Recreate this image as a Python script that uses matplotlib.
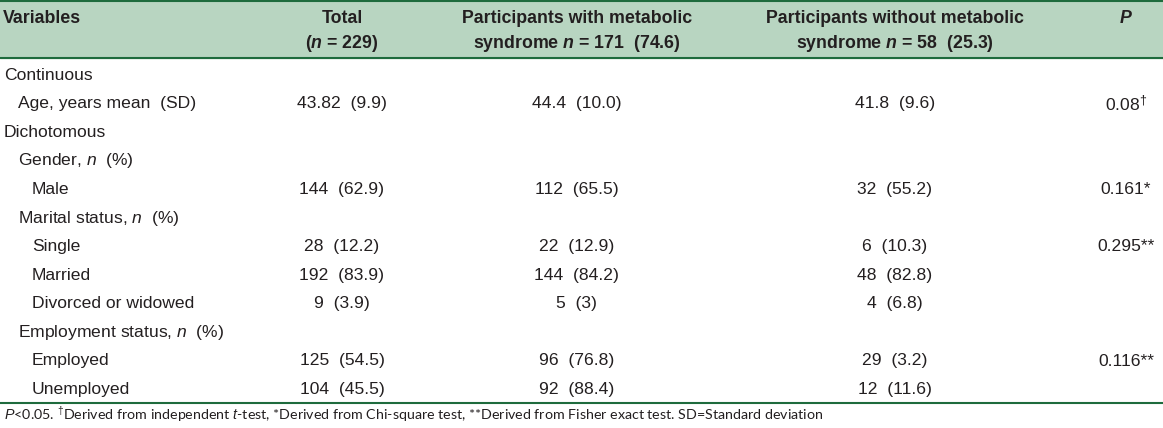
import matplotlib
matplotlib.use("Agg")
import matplotlib.pyplot as plt
from matplotlib import font_manager

# font setup: condensed sans for the table body
narrow = "Liberation Sans Narrow"
try:
    font_manager.findfont(narrow, fallback_to_default=False)
except Exception:
    narrow = "Liberation Sans"
plt.rcParams["font.family"] = [narrow, "DejaVu Sans"]
plt.rcParams["mathtext.fontset"] = "custom"
plt.rcParams["mathtext.rm"] = narrow
plt.rcParams["mathtext.it"] = narrow + ":italic"
plt.rcParams["mathtext.bf"] = narrow + ":bold"
plt.rcParams["mathtext.bfit"] = narrow + ":bold:italic"

# table data
head_line1 = ["Variables", "Total", "Participants with metabolic", "Participants without metabolic", "P"]
head_line2 = ["", "($\\mathbfit{n}$ = 229)", "syndrome $\\mathbfit{n}$ = 171  (74.6)",
              "syndrome $\\mathbfit{n}$ = 58  (25.3)", ""]
row_labels = ["Continuous", "Age, years mean  (SD)", "Dichotomous", "Gender, $n$  (%)", "Male",
              "Marital status, $n$  (%)", "Single", "Married", "Divorced or widowed",
              "Employment status, $n$  (%)", "Employed", "Unemployed"]
row_levels = [0, 1, 0, 1, 2, 1, 2, 2, 2, 1, 2, 2]
total = ["", "43.82  (9.9)", "", "", "144  (62.9)", "", "28  (12.2)", "192  (83.9)", "9  (3.9)",
         "", "125  (54.5)", "104  (45.5)"]
with_ms = ["", "44.4  (10.0)", "", "", "112  (65.5)", "", "22  (12.9)", "144  (84.2)", "5  (3)",
           "", "96  (76.8)", "92  (88.4)"]
without_ms = ["", "41.8  (9.6)", "", "", "32  (55.2)", "", "6  (10.3)", "48  (82.8)", "4  (6.8)",
              "", "29  (3.2)", "12  (11.6)"]
p_values = ["", "0.08$^{\\dagger}$", "", "", "0.161*", "", "0.295**", "", "", "", "0.116**", ""]
footnote = ("$P$<0.05. $^{\\dagger}$Derived from independent $t$-test, *Derived from Chi-square test, "
            "**Derived from Fisher exact test. SD=Standard deviation")

txt = "#231f20"
green_bg = "#b8d5c1"
green_line = "#1e6b3d"

fig = plt.figure(figsize=(11.63, 4.28), dpi=100)
ax = fig.add_axes([0, 0, 1, 1])
ax.set_xlim(0, 1163)
ax.set_ylim(428, 0)
ax.axis("off")

col_x = [3, 342, 577, 895, 1126]
indent = [4, 18, 32]
row_top, row_step = 75, 28.6

# header band
ax.axhspan(0, 58, color=green_bg, zorder=0)
ax.axhline(1, color=green_line, lw=1.5)
ax.axhline(58, color=green_line, lw=1.5)

hdr = dict(fontsize=12.8, fontweight="bold", color=txt, va="center")
ax.text(col_x[0], 18, head_line1[0], ha="left", **hdr)
for cx, h1, h2 in zip(col_x[1:4], head_line1[1:4], head_line2[1:4]):
    ax.text(cx, 18, h1, ha="center", **hdr)
    ax.text(cx, 43, h2, ha="center", **hdr)
ax.text(col_x[4], 18, head_line1[4], ha="center", fontstyle="italic", **hdr)

body = dict(fontsize=12.6, color=txt, va="center")
for i, lab in enumerate(row_labels):
    y = row_top + i * row_step
    ax.text(indent[row_levels[i]], y, lab, ha="left", **body)
    for cx, col in zip(col_x[1:], [total, with_ms, without_ms, p_values]):
        if col[i]:
            ax.text(cx, y, col[i], ha="center", **body)

ax.axhline(403, color=green_line, lw=1.5)
ax.text(4, 414, footnote, ha="left", va="center", fontsize=10.3, color=txt,
        fontfamily=["Lato", "DejaVu Sans"])

fig.savefig("out.png", dpi=100)
